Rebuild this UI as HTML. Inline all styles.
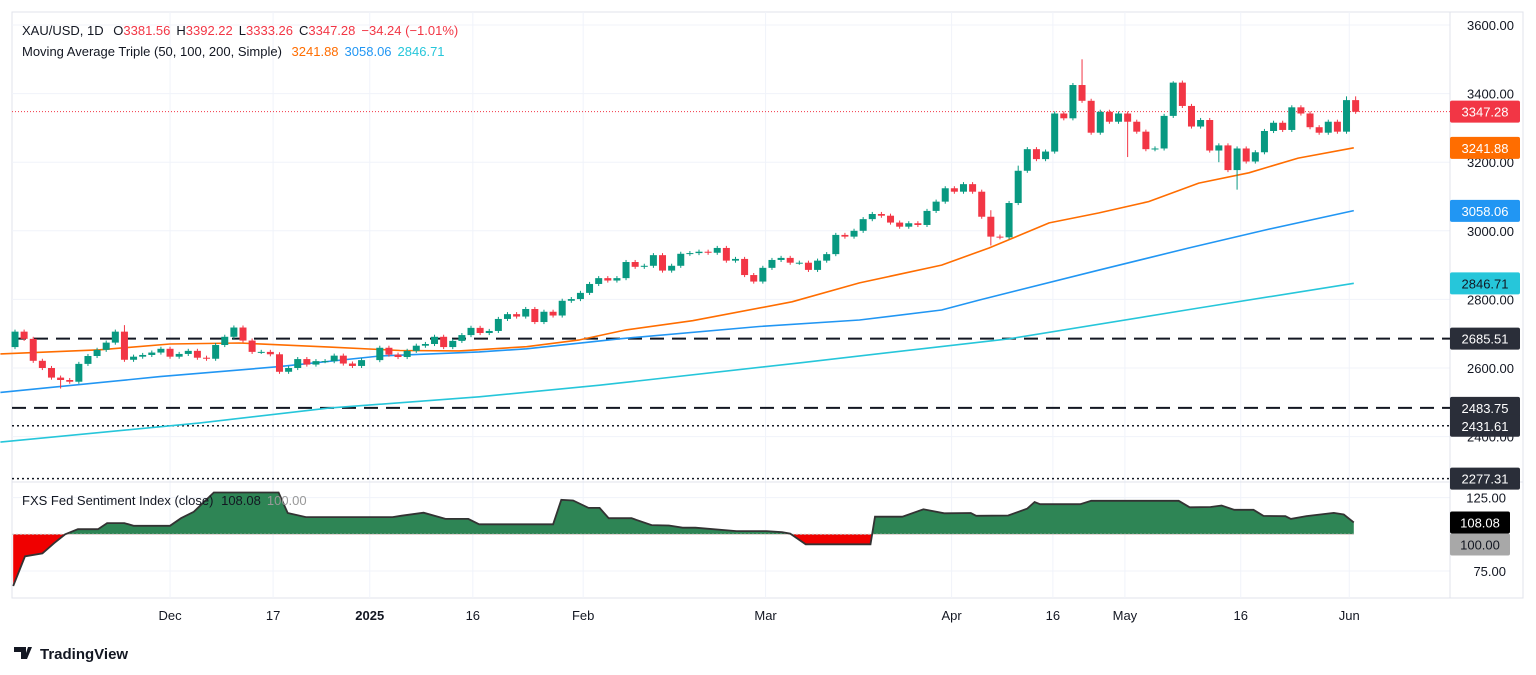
<!DOCTYPE html>
<html><head><meta charset="utf-8"><style>
html,body{margin:0;padding:0;background:#fff;}
svg{display:block;font-family:"Liberation Sans","DejaVu Sans",sans-serif;}
</style></head><body>
<svg id="chart" width="1536" height="675" viewBox="0 0 1536 675" xmlns="http://www.w3.org/2000/svg">
<g id="grid"></g>
<g id="levels"></g>
<g id="mas"></g>
<g id="candles"></g>
<g id="sent"></g>
<g id="axes"></g>
<g font-size="13">
<text x="22" y="35" fill="#131722">XAU/USD, 1D <tspan dx="6">O</tspan><tspan fill="#f23645">3381.56</tspan><tspan dx="6">H</tspan><tspan fill="#f23645">3392.22</tspan><tspan dx="6">L</tspan><tspan fill="#f23645">3333.26</tspan><tspan dx="6">C</tspan><tspan fill="#f23645">3347.28</tspan><tspan dx="6" fill="#f23645">−34.24 (−1.01%)</tspan></text>
<text x="22" y="56" fill="#131722">Moving Average Triple (50, 100, 200, Simple) <tspan dx="6" fill="#ff6d00">3241.88</tspan><tspan dx="6" fill="#2196f3">3058.06</tspan><tspan dx="6" fill="#26c6da">2846.71</tspan></text>
<text x="22" y="505" fill="#131722">FXS Fed Sentiment Index (close) <tspan dx="4">108.08</tspan><tspan dx="6" fill="#999">100.00</tspan></text>
</g>
<g>
<path d="M14 647h12v12h-5v-7h-7z M28 647h4l-5 12h-3z" fill="#131722"/>
<text x="40" y="659" font-size="15" font-weight="bold" fill="#131722">TradingView</text>
</g>
</svg>
<script>
// ---- data ----
const closes = [2706,2685,2621,2600,2572,2565,2560,2612,2635,2653,2674,2706,2624,2633,2638,2645,2656,2633,2641,2650,2630,2627,2667,2691,2718,2680,2647,2647,2640,2589,2600,2626,2610,2620,2620,2636,2613,2606,2623,null,
2659,2639,2632,2650,2665,2670,2691,2661,2679,2696,
2717,2702,2708,2743,2757,2750,2772,2734,2764,2753,2796,2801,2819,2845,2862,2855,2862,2909,2895,2898,2929,2884,2898,2933,2935,2939,2936,2950,2913,2918,2871,2852,2892,2915,2921,2907,2907,2886,2913,2932,2988,2983,3000,3034,3049,3044,3024,3012,3022,3017,3058,3085,3124,3114,3136,3114,
3041,2983,2981,3081,3175,3238,3209,3231,3342,3328,3425,3379,3286,3347,3318,3342,3318,3289,3238,3240,3335,3432,3364,3304,3323,3234,3249,3177,3240,3202,3229,3291,3315,3294,3360,3342,3302,3286,3318,3289,3381,3347];
const firstOpen = 2661;
const highOverrideIdx = [12,117,107,127,110,146,147];
const highOverrideVal = [2725,3500,3060,3436,3190,3392,3392];
const lowOverrideIdx = [134,107,5,132,122];
const lowOverrideVal = [3120,2957,2540,3200,3215];
const ma50Idx = [-1.6,9.3,17,24.6,34.5,42.2,48.7,56.1,61.9,67,74.3,85.2,92.6,101.6,106.8,113.4,118.8,124.3,129.8,135.3,140.7,146.8];
const ma50Val = [2641,2653,2670,2673,2661,2651,2650,2662,2682,2711,2738,2793,2848,2900,2950,3023,3052,3085,3139,3169,3212,3242];
const ma100Idx = [-1.6,15.9,29,40,50.9,56.1,66.3,81.6,92.6,101.6,105.7,118.8,128.7,137.5,146.8];
const ma100Val = [2529,2575,2604,2635,2647,2656,2685,2721,2740,2769,2798,2885,2950,3005,3059];
const ma200Idx = [-1.6,20.3,34.4,50.9,64.1,86,109,129.8,146.8];
const ma200Val = [2384,2440,2483,2516,2550,2615,2685,2775,2847];
const sentIdx = [-0.2,1.1,3.0,4.3,5.5,6.9,9.1,10.1,12.0,13.0,17.0,18.2,19.6,21.8,28.9,29.9,31.9,41.4,42.4,44.8,47.2,49.7,50.9,59.0,59.9,61.2,62.9,64.1,65.1,67.6,69.8,71.7,73.2,74.6,79.1,82.4,84.1,85.0,86.7,93.8,94.3,97.3,99.6,101.9,104.8,105.4,108.9,111.0,111.8,112.4,116.8,118.0,127.6,128.8,131.1,132.3,133.7,135.8,136.9,139.3,139.9,141.6,144.6,145.7,146.8];
const sentVal = [64.8,85,87,94,100,103.5,103.5,107.6,107.6,105.8,105.8,111,115.3,128.5,128.5,114.5,111.7,111.7,112.7,114.7,110.5,110.5,106.8,106.8,123.5,123,118,118,111,111,106.3,106,104.5,104.5,102.2,102.2,101.4,100.5,93.2,93.2,112,112,117,114.3,114.5,112.6,112.8,117.5,122,120.5,120.5,122.8,122.8,118.4,118.6,119.6,116.7,116.7,112.5,112.3,110.5,112.4,114.6,113.5,108.1];
const priceTicks = [3600,3400,3200,3000,2800,2600,2400];
const dateTickIdx = [17,28.3,38.9,50.2,62.3,82.3,102.7,113.8,121.7,134.4,146.3];
const dateTickLbl = ["Dec","17","2025","16","Feb","Mar","Apr","16","May","16","Jun"];
const dashedLevels = [2685.51,2483.75];
const dottedLevels = [2431.61,2277.31];
const lastPrice = 3347.28;

// ---- scales ----
const NS="http://www.w3.org/2000/svg";
const PLOT_R=1450;
const xS=i=>15+9.12*i;
const yP=p=>25+(3600-p)*0.343;
const yS=v=>534.3-(v-100)*1.468;
function mk(tag,attrs,parent){const e=document.createElementNS(NS,tag);for(const k in attrs)e.setAttribute(k,attrs[k]);parent.appendChild(e);return e;}
const G=id=>document.getElementById(id);

// grid
const grid=G('grid');
mk('rect',{x:12,y:12,width:1511,height:586,fill:'none',stroke:'#e0e3eb'},grid);
priceTicks.forEach(p=>{const l=mk('line',{x1:12,x2:PLOT_R,y1:yP(p),y2:yP(p),stroke:'#f0f3fa'},grid);

});
[125,75].forEach(v=>{const l=mk('line',{x1:12,x2:PLOT_R,y1:yS(v),y2:yS(v),stroke:'#f0f3fa'},grid);

});
dateTickIdx.forEach(i=>{const l=mk('line',{x1:xS(i),x2:xS(i),y1:12,y2:598,stroke:'#f0f3fa'},grid);

});
mk('line',{x1:12,x2:1523,y1:482,y2:482,stroke:'#e0e3eb'},grid);
mk('line',{x1:PLOT_R,x2:PLOT_R,y1:12,y2:598,stroke:'#e0e3eb'},grid);

// levels
const lv=G('levels');
dashedLevels.forEach(p=>{const l=mk('line',{x1:12,x2:PLOT_R,y1:yP(p),y2:yP(p),stroke:'#131722','stroke-width':2,'stroke-dasharray':'14,8'},lv);

});
dottedLevels.forEach(p=>{const l=mk('line',{x1:12,x2:PLOT_R,y1:yP(p),y2:yP(p),stroke:'#131722','stroke-width':1.5,'stroke-dasharray':'2,3'},lv);

});
{const l=mk('line',{x1:12,x2:PLOT_R,y1:yP(lastPrice),y2:yP(lastPrice),stroke:'#f23645','stroke-dasharray':'1,2'},lv);

}

// MAs
const mas=G('mas');
function maLine(ix,vals,color,name){const d=ix.map((i,k)=>(k?'L':'M')+xS(i).toFixed(1)+','+yP(vals[k]).toFixed(1)).join(' ');
const p=mk('path',{d:d,fill:'none',stroke:color,'stroke-width':1.6,'stroke-linejoin':'round'},mas);

}
maLine(ma200Idx,ma200Val,'#26c6da','ma200-line');
maLine(ma100Idx,ma100Val,'#2196f3','ma100-line');
maLine(ma50Idx,ma50Val,'#ff6d00','ma50-line');

// candles
const cg=G('candles');
let prev=firstOpen;
closes.forEach((c,i)=>{
  if(c===null) return;
  const o=prev; prev=c;
  let hi=Math.max(o,c)+6, lo=Math.min(o,c)-6;
  const hk=highOverrideIdx.indexOf(i); if(hk>=0) hi=highOverrideVal[hk];
  const lk=lowOverrideIdx.indexOf(i); if(lk>=0) lo=lowOverrideVal[lk];
  const up=c>=o, col=up?'#089981':'#f23645', x=xS(i);
  const g=mk('g',{},cg);
  
  
  mk('line',{x1:x,x2:x,y1:yP(hi),y2:yP(lo),stroke:col,'stroke-width':1},g);
  const yt=yP(Math.max(o,c)), yb=yP(Math.min(o,c));
  mk('rect',{x:x-3.5,y:yt,width:7,height:Math.max(1,yb-yt),fill:col},g);
});

// sentiment
const sg=G('sent');
const base=yS(100);
const pts=sentIdx.map((i,k)=>[xS(i),yS(sentVal[k])]);
const lineD=pts.map((p,k)=>(k?'L':'M')+p[0].toFixed(1)+','+p[1].toFixed(1)).join(' ');
const areaD=lineD+' L'+pts[pts.length-1][0].toFixed(1)+','+base+' L'+pts[0][0].toFixed(1)+','+base+' Z';
const defs=mk('defs',{},sg);
const c1=mk('clipPath',{id:'above'},defs); mk('rect',{x:0,y:480,width:1536,height:base-480},c1);
const c2=mk('clipPath',{id:'below'},defs); mk('rect',{x:0,y:base,width:1536,height:120},c2);
{const a=mk('path',{d:areaD,fill:'#2e8555','clip-path':'url(#above)'},sg);

}
{const a=mk('path',{d:areaD,fill:'#f00000','clip-path':'url(#below)'},sg);

}
mk('line',{x1:12,x2:pts[pts.length-1][0],y1:base,y2:base,stroke:'#c8c8c8','stroke-dasharray':'2,2'},sg);
{const l=mk('path',{d:lineD,fill:'none',stroke:'#333','stroke-width':1.8},sg);

}

// axes
const ax=G('axes');
priceTicks.forEach(p=>{const t=mk('text',{x:1514,y:yP(p)+5,'text-anchor':'end','font-size':13,fill:'#131722'},ax);t.textContent=p.toFixed(2);

});
[125,75].forEach(v=>{const t=mk('text',{x:1506,y:yS(v)+5,'text-anchor':'end','font-size':13,fill:'#131722'},ax);t.textContent=v.toFixed(2);

});
dateTickIdx.forEach((i,k)=>{const t=mk('text',{x:xS(i),y:620,'text-anchor':'middle','font-size':13,fill:'#131722','font-weight':dateTickLbl[k]==='2025'?'bold':'normal'},ax);t.textContent=dateTickLbl[k];

});
function tag(y,txt,bg,fg,name,w){const g=mk('g',{},ax);


mk('rect',{x:1450,y:y-11,width:w||70,height:22,rx:2,fill:bg},g);
const t=mk('text',{x:1450+(w||70)/2,y:y+5,'text-anchor':'middle','font-size':13,fill:fg},g);t.textContent=txt;}
tag(yP(3347.28),'3347.28','#f23645','#fff','last-price-tag');
tag(yP(3241.88),'3241.88','#ff6d00','#fff','ma50-tag');
tag(yP(3058.06),'3058.06','#2196f3','#fff','ma100-tag');
tag(yP(2846.71),'2846.71','#26c6da','#131722','ma200-tag');
tag(yP(2685.51),'2685.51','#2a2e39','#fff','level-2685-tag');
tag(yP(2483.75),'2483.75','#2a2e39','#fff','level-2483-tag');
tag(yP(2431.61),'2431.61','#2a2e39','#fff','level-2431-tag');
tag(yP(2277.31),'2277.31','#2a2e39','#fff','level-2277-tag');
tag(yS(108.08),'108.08','#000','#fff','sentiment-value-tag',60);
tag(yS(108.08)+22,'100.00','#a8a8a8','#131722','sentiment-base-tag',60);
</script>
</body></html>
